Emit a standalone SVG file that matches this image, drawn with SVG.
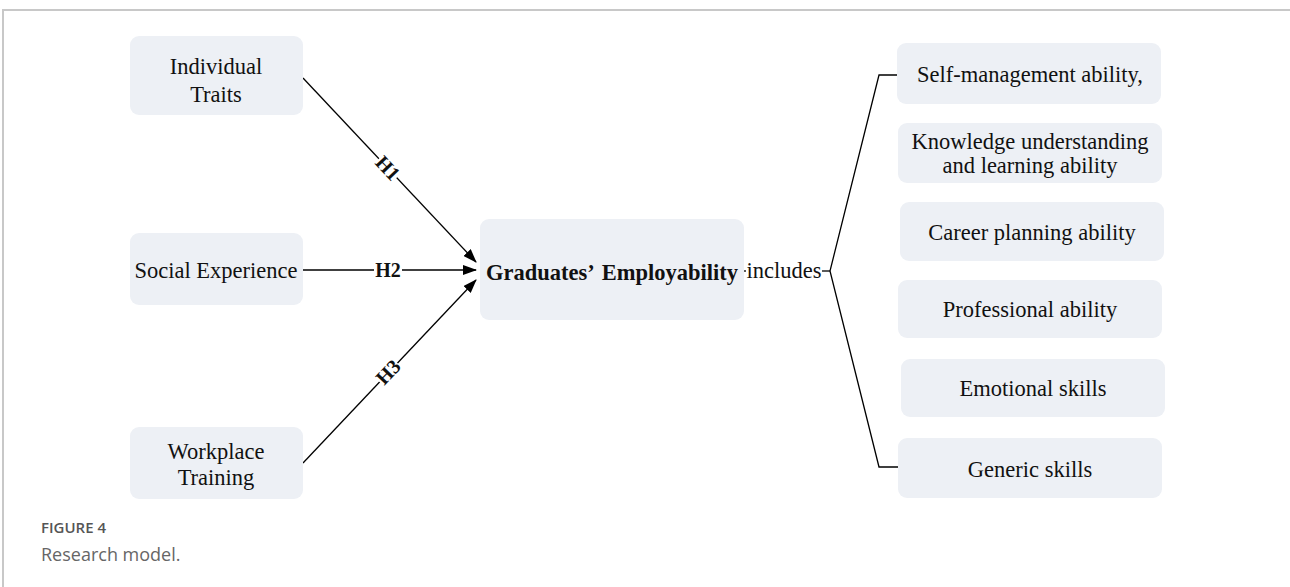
<svg xmlns="http://www.w3.org/2000/svg" width="1290" height="587" viewBox="0 0 1290 587">
<defs>
<marker id="arr" markerWidth="14" markerHeight="10" refX="13" refY="5" orient="auto" markerUnits="userSpaceOnUse">
<path d="M0,0 L14,5 L0,10 Z" fill="#000"/>
</marker>
<style>
.box{fill:#edf0f5;}
.t{font-family:"Liberation Serif","Times New Roman",serif;font-size:22.5px;fill:#111;text-anchor:middle;}
.b{font-weight:bold;}
.h{font-size:20px;}
.ln{stroke:#000;stroke-width:1.3;fill:none;}
.cap1{font-family:"Open Sans","Noto Sans",sans-serif;font-size:15px;font-weight:600;fill:#555;}
.cap2{font-family:"Open Sans","Noto Sans",sans-serif;font-size:18px;fill:#666;}
</style>
</defs>
<rect width="1290" height="587" fill="#fff"/>
<path d="M3,587 V10 H1290" stroke="#c8c8c8" stroke-width="2" fill="none"/>

<g id="connectors">
<line class="ln" x1="303" y1="78" x2="476" y2="262" marker-end="url(#arr)"/>
<line class="ln" x1="303" y1="270" x2="476" y2="270" marker-end="url(#arr)"/>
<line class="ln" x1="303" y1="463" x2="476" y2="280" marker-end="url(#arr)"/>
<g transform="translate(388,168) rotate(46.8)">
<rect x="-13" y="-9" width="26" height="18" fill="#fff"/>
<text class="t b h" x="0" y="7">H1</text>
</g>
<g transform="translate(388,270)">
<rect x="-14" y="-9" width="28" height="18" fill="#fff"/>
<text class="t b h" x="0" y="7">H2</text>
</g>
<g transform="translate(388,372) rotate(-46.6)">
<rect x="-13" y="-9" width="26" height="18" fill="#fff"/>
<text class="t b h" x="0" y="7">H3</text>
</g>
<line class="ln" x1="738" y1="271" x2="746" y2="271"/>
<text class="t" x="784" y="278">includes</text>
<polyline class="ln" points="822,271 830,271"/>
<polyline class="ln" points="898,75 879,75 830,271 879,467 898,467"/>
</g>

<g id="n-individual">
<rect class="box" x="130" y="36" width="173" height="79" rx="9"/>
<text class="t" x="216" y="74">Individual</text>
<text class="t" x="216" y="102">Traits</text>
</g>
<g id="n-social">
<rect class="box" x="130" y="233" width="173" height="72" rx="9"/>
<text class="t" x="216" y="278">Social Experience</text>
</g>
<g id="n-workplace">
<rect class="box" x="130" y="427" width="173" height="72" rx="9"/>
<text class="t" x="216" y="459">Workplace</text>
<text class="t" x="216" y="485">Training</text>
</g>
<g id="n-employability">
<rect class="box" x="480" y="219" width="264" height="101" rx="9"/>
<text class="t b" x="612" y="280" font-size="21.5">Graduates’<tspan dx="7">Employability</tspan></text>
</g>
<g id="n-self">
<rect class="box" x="897" y="43" width="264" height="61" rx="9"/>
<text class="t" x="1030" y="82">Self-management ability,</text>
</g>
<g id="n-knowledge">
<rect class="box" x="898" y="123" width="264" height="60" rx="9"/>
<text class="t" x="1030" y="149">Knowledge understanding</text>
<text class="t" x="1030" y="173">and learning ability</text>
</g>
<g id="n-career">
<rect class="box" x="900" y="202" width="264" height="59" rx="9"/>
<text class="t" x="1032" y="240">Career planning ability</text>
</g>
<g id="n-professional">
<rect class="box" x="898" y="280" width="264" height="58" rx="9"/>
<text class="t" x="1030" y="317">Professional ability</text>
</g>
<g id="n-emotional">
<rect class="box" x="901" y="359" width="264" height="58" rx="9"/>
<text class="t" x="1033" y="396">Emotional skills</text>
</g>
<g id="n-generic">
<rect class="box" x="898" y="438" width="264" height="60" rx="9"/>
<text class="t" x="1030" y="477">Generic skills</text>
</g>

<text class="cap1" x="41" y="533">FIGURE 4</text>
<text class="cap2" x="41" y="561">Research model.</text>
</svg>
